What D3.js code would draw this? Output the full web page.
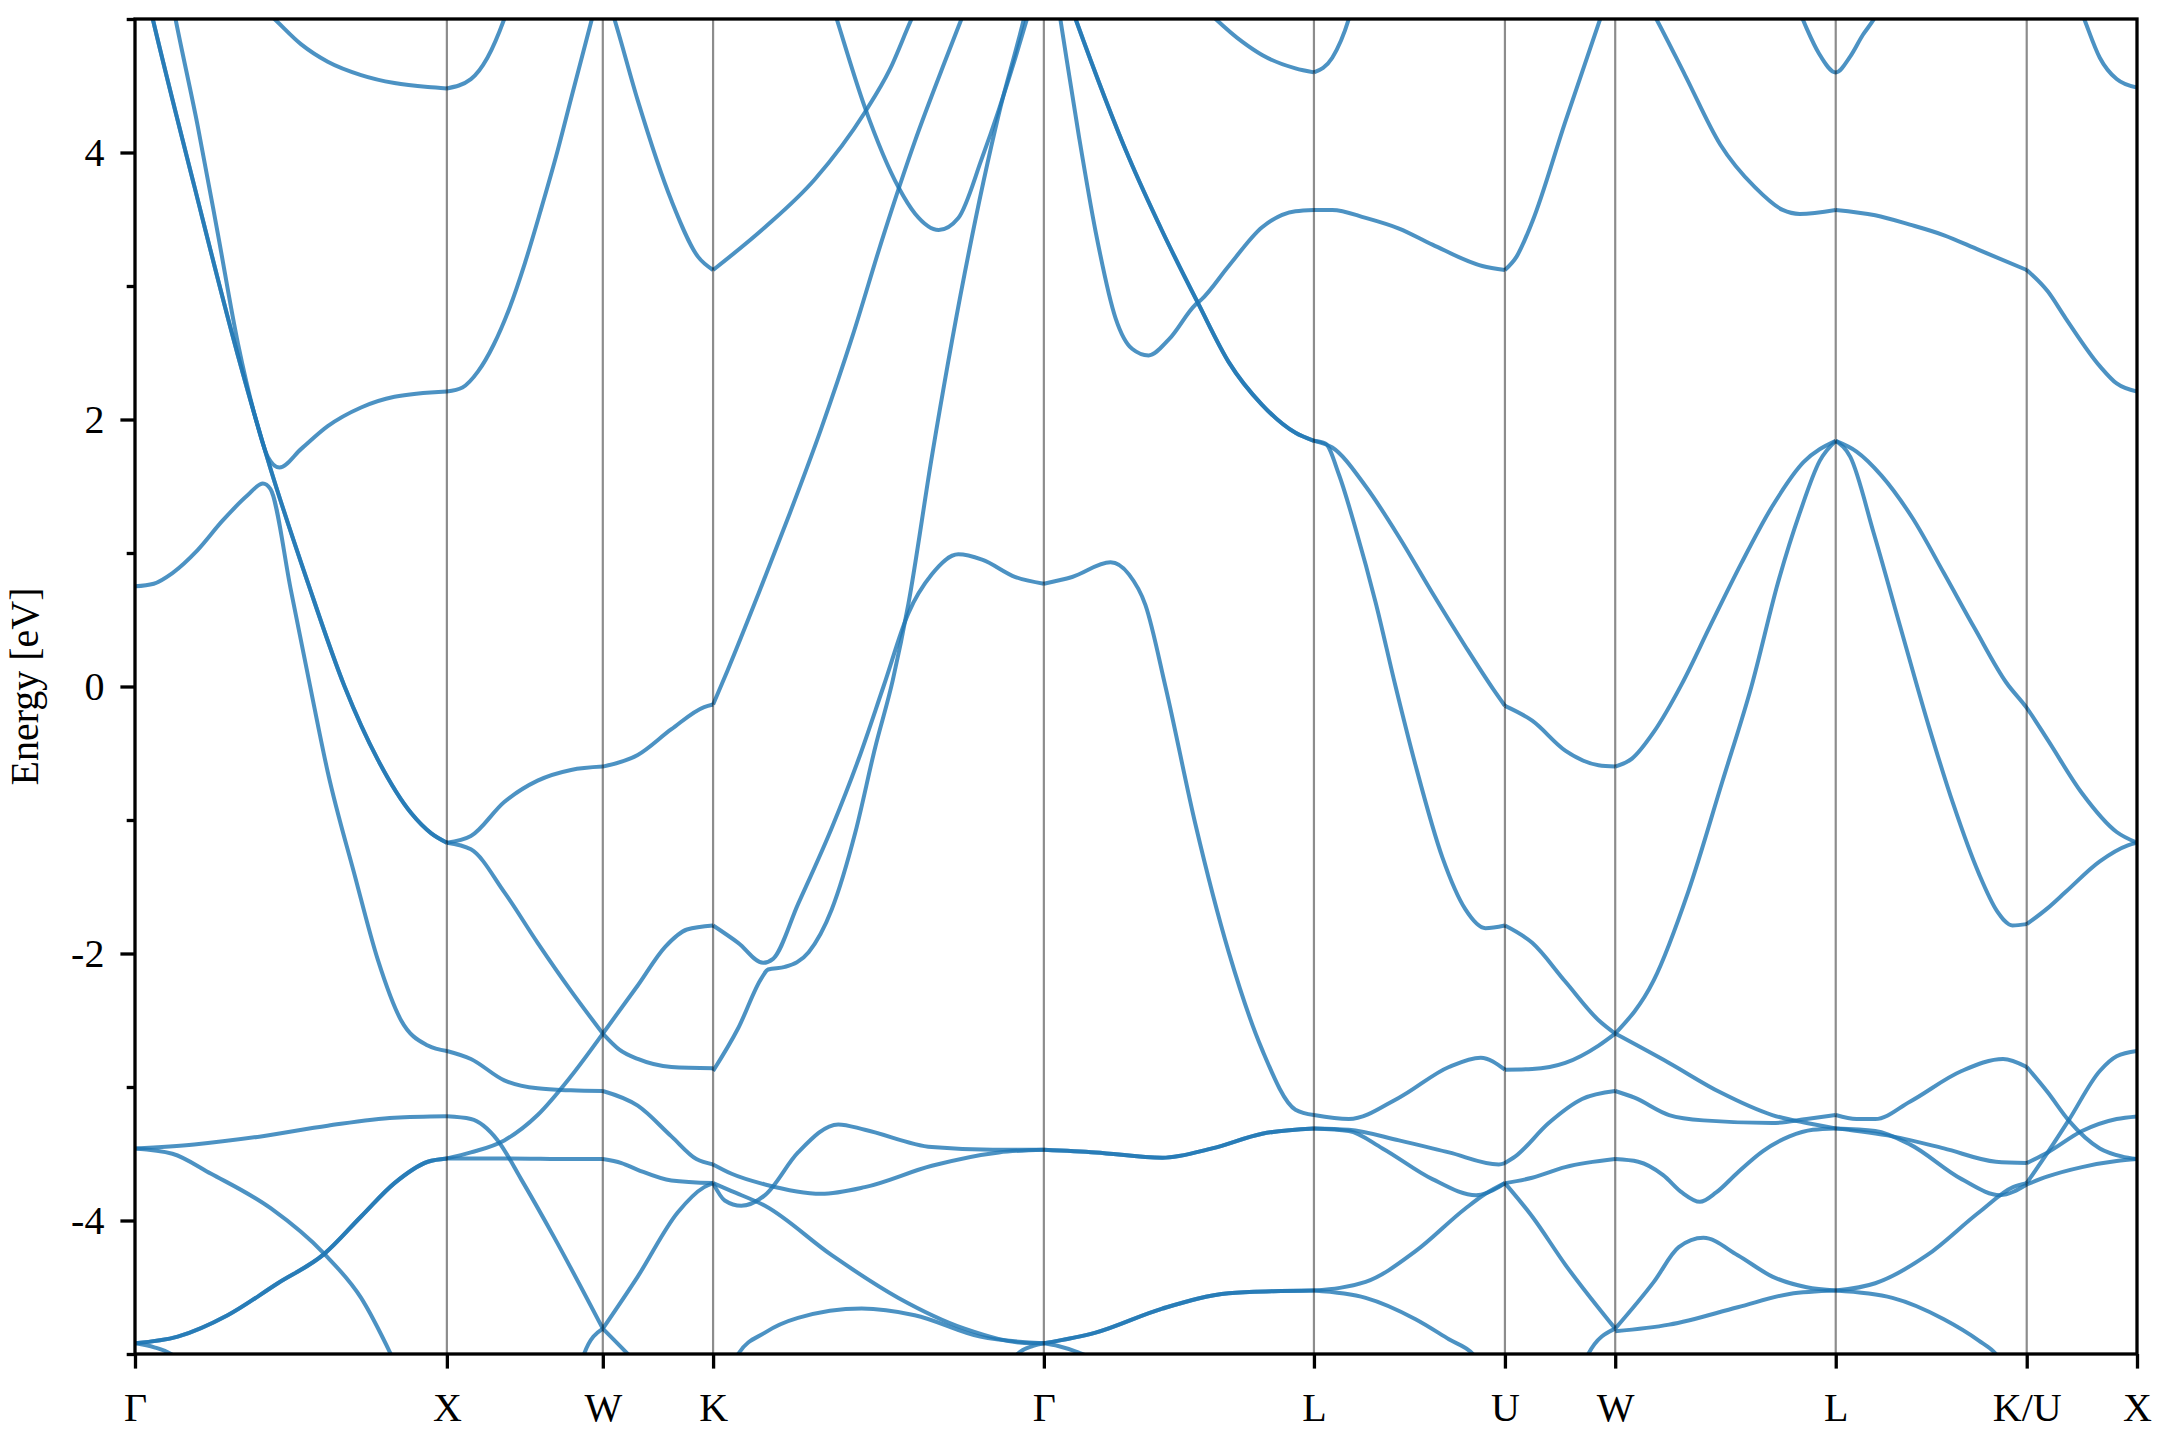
<!DOCTYPE html>
<html><head><meta charset="utf-8">
<script src="https://cdn.jsdelivr.net/npm/d3@7"></script>
<style>html,body{margin:0;padding:0;background:#fff;} svg{display:block;}</style>
</head><body>
<svg id="chart" width="2160" height="1440"></svg>
<script>
// High-symmetry path
const kTicks = [0, 1, 1.5, 1.8536, 2.9142, 3.7802, 4.3926, 4.7462, 5.4533, 6.0657, 6.4193];
const kLabels = ["Γ","X","W","K","Γ","L","U","W","L","K/U","X"];
const yMajor = [-4,-2,0,2,4];
const yMinor = [-5,-3,-1,1,3,5];

// Band lines [k, E(eV)]
// Γ–X
const gx1 = [[0,0.75],[0.06,0.77],[0.12,0.85],[0.20,1.02],[0.28,1.24],[0.36,1.43],[0.41,1.52],[0.434,1.48],[0.50,0.72],[0.56,0.02],[0.618,-0.64],[0.704,-1.41],[0.779,-2.05],[0.853,-2.50],[0.939,-2.69],[1,-2.73]];
const gx2 = [[0.03,5.27],[0.057,5.0],[0.19,3.75],[0.33,2.48],[0.436,1.62],[0.554,0.78],[0.672,0.0],[0.779,-0.55],[0.886,-0.95],[0.95,-1.10],[1,-1.17]];
const gx3 = [[0.11,5.24],[0.13,5.0],[0.201,4.20],[0.265,3.40],[0.33,2.57],[0.383,2.04],[0.426,1.72],[0.463,1.64],[0.533,1.78],[0.618,1.95],[0.725,2.09],[0.832,2.17],[1,2.21]];
const gx4 = [[0.40,5.1],[0.447,5.0],[0.533,4.81],[0.618,4.68],[0.725,4.58],[0.832,4.52],[0.939,4.49],[1,4.48]];
const gx5 = [[0,-3.46],[0.19,-3.43],[0.404,-3.37],[0.618,-3.29],[0.832,-3.23],[1,-3.22]];
const gx6 = [[0,-3.46],[0.12,-3.50],[0.244,-3.65],[0.436,-3.91],[0.607,-4.25],[0.725,-4.58],[0.82,-5.0],[0.86,-5.2]];
const gx7 = [[0,-4.92],[0.137,-4.87],[0.297,-4.71],[0.458,-4.47],[0.607,-4.25],[0.725,-3.97],[0.832,-3.72],[0.939,-3.56],[1,-3.535]];
const gx8 = [[0,-4.92],[0.062,-4.95],[0.115,-5.0],[0.2,-5.2]];
// X–W
const xw1 = [[1,4.48],[1.077,4.55],[1.13,4.71],[1.184,5.0],[1.22,5.25]];
const xw2 = [[1,2.21],[1.05,2.24],[1.10,2.36],[1.15,2.56],[1.20,2.83],[1.25,3.17],[1.30,3.56],[1.35,3.97],[1.40,4.42],[1.465,5.0],[1.49,5.22]];
const xw3 = [[1,-1.17],[1.077,-1.12],[1.184,-0.865],[1.291,-0.705],[1.398,-0.625],[1.5,-0.60]];
const xw4 = [[1,-1.17],[1.077,-1.22],[1.184,-1.54],[1.291,-1.92],[1.398,-2.28],[1.5,-2.60]];
const xw5 = [[1,-3.535],[1.077,-3.49],[1.184,-3.40],[1.291,-3.21],[1.398,-2.92],[1.5,-2.60]];
const xw6 = [[1,-2.73],[1.077,-2.79],[1.184,-2.95],[1.291,-3.01],[1.398,-3.025],[1.5,-3.03]];
const xw7 = [[1,-3.22],[1.077,-3.24],[1.163,-3.40],[1.238,-3.69],[1.345,-4.13],[1.5,-4.81]];
const xw8 = [[1,-3.535],[1.2,-3.535],[1.4,-3.54],[1.5,-3.54]];
const xw9 = [[1.42,-5.2],[1.44,-5.0],[1.5,-4.81]];
// W–K
const wk1 = [[1.5,-0.60],[1.612,-0.513],[1.72,-0.32],[1.825,-0.154],[1.8536,-0.135]];
const wk2 = [[1.5,-2.60],[1.553,-2.72],[1.612,-2.79],[1.72,-2.85],[1.8536,-2.86]];
const wk3 = [[1.5,-2.60],[1.612,-2.24],[1.70,-1.95],[1.77,-1.82],[1.8536,-1.79]];
const wk4 = [[1.5,-3.03],[1.612,-3.14],[1.72,-3.37],[1.80,-3.54],[1.8536,-3.58]];
const wk5 = [[1.51,5.2],[1.537,5.0],[1.612,4.39],[1.72,3.64],[1.805,3.22],[1.8536,3.12]];
const wk6 = [[1.5,-4.81],[1.58,-5.0],[1.64,-5.15]];
const wk7 = [[1.5,-4.81],[1.612,-4.42],[1.74,-3.94],[1.825,-3.75],[1.8536,-3.72]];
const wk8 = [[1.5,-3.54],[1.56,-3.57],[1.612,-3.62],[1.72,-3.70],[1.8536,-3.72]];
// K–Γ
const kg1 = [[1.8536,3.12],[2.02,3.44],[2.18,3.80],[2.34,4.30],[2.42,4.62],[2.49,5.0],[2.52,5.15]];
const kg2 = [[2.23,5.15],[2.25,5.0],[2.34,4.34],[2.448,3.74],[2.502,3.54],[2.577,3.42],[2.64,3.51],[2.716,3.96],[2.823,4.71],[2.86,5.0],[2.88,5.15]];
const kg3 = [[1.8536,-0.135],[1.90,0.12],[2.0,0.70],[2.1,1.30],[2.2,1.93],[2.3,2.62],[2.4,3.38],[2.5,4.08],[2.6,4.70],[2.65,5.0],[2.68,5.18]];
const kg4 = [[1.8536,-1.79],[1.934,-1.92],[2.014,-2.07],[2.046,-2.04],[2.126,-1.63],[2.234,-1.06],[2.32,-0.545],[2.40,0.0],[2.48,0.55],[2.555,0.84],[2.64,0.99],[2.716,0.95],[2.823,0.82],[2.9142,0.77]];
const kg5 = [[1.8536,-2.88],[1.934,-2.56],[2.01,-2.18],[2.03,-2.12],[2.084,-2.10],[2.16,-1.99],[2.234,-1.67],[2.31,-1.09],[2.373,-0.46],[2.43,0.05],[2.48,0.62],[2.555,1.72],[2.66,3.09],[2.77,4.29],[2.85,5.0],[2.87,5.2]];
const kg6 = [[1.8536,-3.58],[1.913,-3.65],[2.02,-3.73],[2.2,-3.80],[2.34,-3.75],[2.555,-3.59],[2.77,-3.49],[2.9142,-3.47]];
const kg7 = [[1.8536,-3.72],[1.891,-3.85],[1.944,-3.89],[2.02,-3.81],[2.126,-3.49],[2.255,-3.28],[2.34,-3.32],[2.555,-3.45],[2.75,-3.47],[2.9142,-3.47]];
const kg8 = [[1.8536,-3.72],[1.913,-3.78],[2.02,-3.89],[2.234,-4.26],[2.448,-4.58],[2.66,-4.81],[2.876,-4.92],[2.9142,-4.92]];
const kg9 = [[1.90,-5.2],[1.934,-5.0],[2.02,-4.84],[2.126,-4.73],[2.33,-4.66],[2.5,-4.71],[2.71,-4.87],[2.9142,-4.92]];
const kg10 = [[2.80,-5.2],[2.83,-5.0],[2.88,-4.94],[2.9142,-4.92]];
// Γ–L
const gl1 = [[2.99,5.17],[3.016,5.0],[3.187,3.96],[3.294,3.41],[3.411,2.86],[3.507,2.43],[3.614,2.11],[3.721,1.90],[3.7802,1.84]];
const gl2 = [[2.95,5.25],[2.967,5.0],[3.026,4.13],[3.08,3.41],[3.144,2.76],[3.197,2.53],[3.25,2.48],[3.315,2.60],[3.40,2.86],[3.42,2.90],[3.507,3.15],[3.614,3.44],[3.721,3.56],[3.7802,3.57]];
const gl3 = [[3.40,5.15],[3.465,5.0],[3.55,4.83],[3.614,4.73],[3.721,4.63],[3.7802,4.60]];
const gl4 = [[2.9142,0.77],[3.005,0.82],[3.128,0.93],[3.187,0.84],[3.24,0.61],[3.304,0.0],[3.40,-1.03],[3.507,-1.99],[3.614,-2.72],[3.721,-3.17],[3.7802,-3.21]];
const gl5 = [[2.9142,-3.47],[3.08,-3.49],[3.294,-3.53],[3.454,-3.46],[3.614,-3.35],[3.7802,-3.31]];
const gl6 = [[2.9142,-4.92],[3.08,-4.84],[3.294,-4.66],[3.507,-4.545],[3.65,-4.53],[3.7802,-4.525]];
const gl7 = [[2.9142,-4.92],[2.96,-4.94],[3.026,-4.99],[3.08,-5.05],[3.15,-5.2]];
// L–U
const lu1 = [[3.7802,4.60],[3.839,4.71],[3.892,5.0],[3.91,5.15]];
const lu2 = [[3.7802,3.57],[3.839,3.57],[3.946,3.51],[4.053,3.43],[4.16,3.31],[4.32,3.15],[4.3926,3.12]];
const lu3 = [[3.7802,1.84],[3.817,1.82],[3.86,1.59],[3.914,1.18],[3.978,0.63],[4.042,0.0],[4.106,-0.59],[4.192,-1.28],[4.266,-1.67],[4.33,-1.81],[4.3926,-1.79]];
const lu4 = [[3.7802,1.84],[3.839,1.79],[3.946,1.50],[4.053,1.12],[4.16,0.70],[4.266,0.30],[4.355,-0.02],[4.3926,-0.145]];
const lu5 = [[3.7802,-3.21],[3.892,-3.24],[4.053,-3.08],[4.213,-2.85],[4.315,-2.78],[4.3926,-2.87]];
const lu6 = [[3.7802,-3.31],[3.892,-3.32],[4.053,-3.40],[4.213,-3.49],[4.373,-3.58],[4.3926,-3.57]];
const lu7 = [[3.7802,-3.31],[3.892,-3.33],[4.0,-3.46],[4.16,-3.69],[4.3,-3.81],[4.373,-3.75],[4.3926,-3.72]];
const lu8 = [[3.7802,-4.525],[3.946,-4.46],[4.106,-4.23],[4.266,-3.91],[4.33,-3.80],[4.3926,-3.72]];
const lu9 = [[3.7802,-4.525],[3.946,-4.58],[4.106,-4.74],[4.213,-4.89],[4.29,-5.0],[4.35,-5.2]];
// U–W
const uw1 = [[4.3926,3.12],[4.43,3.22],[4.48,3.48],[4.586,4.23],[4.698,5.0],[4.72,5.15]];
const uw2 = [[4.3926,-0.145],[4.48,-0.256],[4.586,-0.48],[4.693,-0.59],[4.7462,-0.60]];
const uw3 = [[4.3926,-1.79],[4.48,-1.92],[4.586,-2.21],[4.693,-2.50],[4.7462,-2.60]];
const uw4 = [[4.3926,-2.87],[4.48,-2.865],[4.586,-2.82],[4.693,-2.69],[4.7462,-2.60]];
const uw5 = [[4.3926,-3.57],[4.426,-3.52],[4.533,-3.27],[4.64,-3.09],[4.7462,-3.03]];
const uw6 = [[4.3926,-3.72],[4.48,-3.68],[4.586,-3.60],[4.7462,-3.54]];
const uw7 = [[4.3926,-3.72],[4.48,-3.97],[4.586,-4.33],[4.7462,-4.81]];
const uw8 = [[4.64,-5.2],[4.66,-5.0],[4.7462,-4.81]];
// W–L
const wl1 = [[4.85,5.12],[4.878,5.0],[4.97,4.58],[5.083,4.06],[5.194,3.74],[5.283,3.57],[5.338,3.54],[5.4533,3.57]];
const wl2 = [[5.33,5.1],[5.36,4.93],[5.40,4.74],[5.4533,4.60],[5.50,4.72],[5.54,4.88],[5.576,5.0],[5.60,5.1]];
const wl3 = [[4.7462,-0.60],[4.80,-0.54],[4.87,-0.34],[4.96,0.02],[5.05,0.45],[5.15,0.92],[5.25,1.35],[5.35,1.68],[5.4533,1.84]];
const wl4 = [[4.7462,-2.60],[4.87,-2.20],[4.98,-1.54],[5.09,-0.71],[5.183,0.0],[5.272,0.81],[5.338,1.30],[5.402,1.69],[5.4533,1.84]];
const wl5 = [[4.7462,-2.60],[4.919,-2.82],[5.083,-3.04],[5.25,-3.21],[5.36,-3.27],[5.4533,-3.31]];
const wl6 = [[4.7462,-3.03],[4.808,-3.08],[4.919,-3.21],[5.029,-3.25],[5.25,-3.27],[5.36,-3.24],[5.4533,-3.21]];
const wl7 = [[4.7462,-3.54],[4.82,-3.56],[4.90,-3.66],[4.96,-3.79],[5.018,-3.86],[5.07,-3.79],[5.139,-3.64],[5.22,-3.48],[5.305,-3.37],[5.38,-3.32],[5.4533,-3.31]];
const wl8 = [[4.7462,-4.81],[4.87,-4.46],[4.95,-4.20],[5.029,-4.13],[5.139,-4.26],[5.25,-4.42],[5.36,-4.50],[5.4533,-4.525]];
const wl9 = [[4.7462,-4.83],[4.919,-4.78],[5.139,-4.65],[5.305,-4.55],[5.4533,-4.525]];
// L–K/U and U–X
const lk2 = [[5.4533,3.57],[5.58,3.53],[5.691,3.46],[5.801,3.38],[5.912,3.27],[6.0657,3.12]];
const lk3 = [[5.4533,1.84],[5.50,1.72],[5.575,1.15],[5.66,0.45],[5.752,-0.30],[5.83,-0.88],[5.912,-1.40],[5.97,-1.68],[6.02,-1.79],[6.0657,-1.78]];
const lk4 = [[5.4533,1.84],[5.52,1.76],[5.60,1.58],[5.70,1.26],[5.80,0.85],[5.90,0.43],[6.0,0.03],[6.0657,-0.16],[6.133,-0.40],[6.243,-0.80],[6.354,-1.09],[6.4193,-1.17]];
const lk5 = [[5.4533,-3.21],[5.52,-3.24],[5.58,-3.24],[5.691,-3.11],[5.857,-2.88],[5.99,-2.79],[6.0657,-2.85]];
const lk6 = [[5.4533,-3.31],[5.58,-3.33],[5.691,-3.43],[5.857,-3.69],[5.98,-3.81],[6.0657,-3.73]];
const lk7 = [[5.4533,-3.31],[5.635,-3.37],[5.80,-3.46],[5.967,-3.56],[6.0657,-3.57]];
const lk8 = [[5.4533,-4.525],[5.58,-4.47],[5.746,-4.26],[5.912,-3.94],[6.022,-3.75],[6.0657,-3.72]];
const lk9 = [[5.4533,-4.525],[5.635,-4.58],[5.80,-4.74],[5.912,-4.90],[5.967,-5.0],[6.01,-5.15]];
const ku1 = [[6.0657,3.12],[6.133,2.96],[6.19,2.76],[6.30,2.40],[6.354,2.27],[6.4193,2.21]];
const ku2 = [[6.23,5.12],[6.25,5.0],[6.30,4.71],[6.354,4.55],[6.4193,4.486]];
const ku3 = [[6.0657,-1.78],[6.133,-1.66],[6.19,-1.54],[6.30,-1.31],[6.39,-1.19],[6.4193,-1.17]];
const ku4 = [[6.0657,-2.85],[6.133,-3.04],[6.2,-3.25],[6.30,-3.46],[6.37,-3.52],[6.4193,-3.54]];
const ku5 = [[6.0657,-3.73],[6.133,-3.67],[6.243,-3.60],[6.354,-3.555],[6.4193,-3.54]];
const ku6 = [[6.0657,-3.57],[6.133,-3.49],[6.243,-3.33],[6.354,-3.24],[6.4193,-3.22]];
const ku7 = [[6.0657,-3.72],[6.133,-3.49],[6.2,-3.25],[6.30,-2.88],[6.354,-2.77],[6.4193,-2.73]];

// degenerate bands appear twice (darker overlap)
const bandLines = [
  gx1, gx2, gx2, gx3, gx4, gx5, gx6, gx7, gx7, gx8,
  xw1, xw2, xw3, xw4, xw5, xw6, xw7, xw8, xw9,
  wk1, wk2, wk3, wk4, wk5, wk6, wk7, wk8,
  kg1, kg2, kg3, kg4, kg5, kg6, kg7, kg8, kg9, kg10,
  gl1, gl1, gl2, gl3, gl4, gl5, gl5, gl6, gl6, gl7,
  lu1, lu2, lu3, lu4, lu5, lu6, lu7, lu8, lu9,
  uw1, uw2, uw3, uw4, uw5, uw6, uw7, uw8,
  wl1, wl2, wl3, wl4, wl5, wl6, wl7, wl8, wl9,
  lk2, lk3, lk4, lk5, lk6, lk7, lk8, lk9,
  ku1, ku2, ku3, ku4, ku5, ku6, ku7
];

const W = 2160, H = 1440;
const L0 = 135, R0 = 2137, T0 = 19, B0 = 1354;
const FONT = "'Liberation Serif','Times New Roman',Times,serif";
const FS = 40;

const x = d3.scaleLinear().domain([0, kTicks[kTicks.length-1]]).range([L0, R0]);
const y = d3.scaleLinear().domain([-5, 5]).range([B0, T0]);

const svg = d3.select('#chart');
svg.append('rect').attr('width', W).attr('height', H).attr('fill', '#fff');
svg.append('defs').append('clipPath').attr('id', 'clip')
  .append('rect').attr('x', L0).attr('y', T0).attr('width', R0 - L0).attr('height', B0 - T0);

const g = svg.append('g').attr('clip-path', 'url(#clip)');
const line = d3.line().x(d => x(d[0])).y(d => y(d[1])).curve(d3.curveMonotoneX);

g.selectAll('path.band').data(bandLines).join('path')
  .attr('class', 'band')
  .attr('d', line)
  .attr('fill', 'none')
  .attr('stroke', '#1f77b4')
  .attr('stroke-opacity', 0.8)
  .attr('stroke-width', 4)
  .attr('stroke-linejoin', 'round');

// vertical lines at high-symmetry points
g.selectAll('line.vl').data(kTicks.slice(1, -1)).join('line')
  .attr('class', 'vl')
  .attr('x1', d => x(d)).attr('x2', d => x(d))
  .attr('y1', T0).attr('y2', B0)
  .attr('stroke', '#000').attr('stroke-opacity', 0.45).attr('stroke-width', 2.2);

// axes
const fmt = d => (d < 0 ? '-' + Math.abs(d) : String(d));
const yAx = svg.append('g').attr('transform', `translate(${L0},0)`)
  .call(d3.axisLeft(y).tickValues(yMajor).tickFormat(fmt).tickSize(14.6).tickPadding(16));
const yAxMinor = svg.append('g').attr('transform', `translate(${L0},0)`)
  .call(d3.axisLeft(y).tickValues(yMinor).tickFormat('').tickSize(8.3));
const xAx = svg.append('g').attr('transform', `translate(0,${B0})`)
  .call(d3.axisBottom(x).tickValues(kTicks).tickFormat((d, i) => kLabels[i]).tickSize(14.6).tickPadding(24));

[yAx, yAxMinor, xAx].forEach(a => {
  a.select('.domain').remove();
  a.selectAll('line').attr('stroke', '#000').attr('stroke-width', 3.3);
  a.selectAll('text').attr('fill', '#000').style('font-family', FONT).style('font-size', FS + 'px');
});

// frame
svg.append('rect').attr('x', L0).attr('y', T0).attr('width', R0 - L0).attr('height', B0 - T0)
  .attr('fill', 'none').attr('stroke', '#000').attr('stroke-width', 3.3);

// y label
svg.append('text')
  .attr('transform', `translate(38,${(T0 + B0) / 2}) rotate(-90)`)
  .attr('text-anchor', 'middle')
  .style('font-family', FONT).style('font-size', FS + 'px')
  .attr('fill', '#000')
  .text('Energy [eV]');
</script>
</body></html>
